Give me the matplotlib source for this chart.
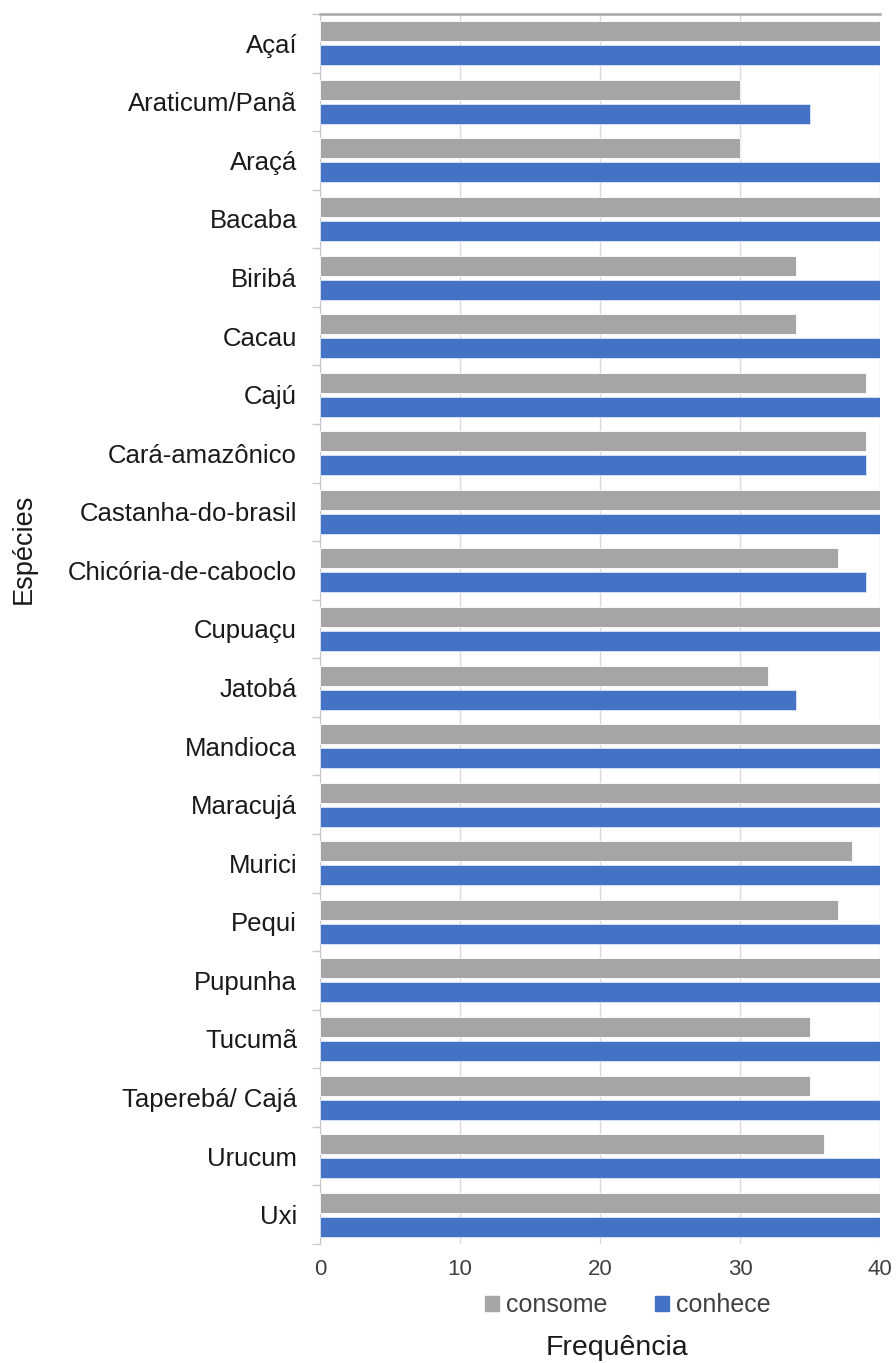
import matplotlib
matplotlib.use("Agg")
import matplotlib.pyplot as plt
import numpy as np
from matplotlib.patches import Patch

plt.rcParams['font.family'] = ['Liberation Sans', 'DejaVu Sans']

# Especies e frequencias
especies = ["Açaí", "Araticum/Panã", "Araçá", "Bacaba", "Biribá", "Cacau", "Cajú",
            "Cará-amazônico", "Castanha-do-brasil", "Chicória-de-caboclo", "Cupuaçu",
            "Jatobá", "Mandioca", "Maracujá", "Murici", "Pequi", "Pupunha", "Tucumã",
            "Taperebá/ Cajá", "Urucum", "Uxi"]
consome = [40, 30, 30, 40, 34, 34, 39, 39, 40, 37, 40, 32, 40, 40, 38, 37, 40, 35, 35, 36, 40]
conhece = [40, 35, 40, 40, 40, 40, 40, 39, 40, 39, 40, 34, 40, 40, 40, 40, 40, 40, 40, 40, 40]
xticks = [0, 10, 20, 30, 40]

cinza = "#A5A5A5"
azul = "#4472C4"

W, H = 896, 1363
fig = plt.figure(figsize=(W / 100, H / 100), dpi=100)
ax = fig.add_axes([320 / W, 1 - 1244 / H, 560 / W, (1244 - 14) / H])

y = np.arange(len(especies))
h = 0.34
off = 0.205
ax.barh(y - off, consome, height=h, color=cinza, edgecolor="white", linewidth=0.6, zorder=3)
ax.barh(y + off, conhece, height=h, color=azul, edgecolor="#dbe6f7", linewidth=0.6, zorder=3)

ax.set_xlim(0, 40)
ax.set_ylim(len(especies) - 0.5, -0.5)
ax.set_xticks(xticks)
ax.set_xticklabels([str(t) for t in xticks], fontsize=16, color="#404040")
ax.set_yticks(y)
ax.set_yticklabels(especies, fontsize=18.5, color="#1a1a1a")
ax.set_yticks(np.arange(-0.5, len(especies) + 0.5, 1), minor=True)
ax.tick_params(axis="y", which="major", length=0, pad=16.5)
ax.tick_params(axis="y", which="minor", length=6, color="#c8c8c8", width=1)
ax.tick_params(axis="x", length=0, pad=11)

ax.grid(axis="x", color="#d9d9d9", linewidth=1, zorder=0)
for s in ["right", "bottom"]:
    ax.spines[s].set_visible(False)
ax.spines["left"].set_color("#c8c8c8")
ax.spines["top"].set_color("#a6a6a6")
ax.spines["top"].set_linewidth(1.8)

# titulos dos eixos
fig.text(24 / W, 1 - 549 / H, "Espécies", rotation=90, ha="center", va="center",
         fontsize=19.5, color="#1a1a1a")
fig.text(617 / W, 1 - 1348 / H, "Frequência", ha="center", va="center",
         fontsize=20.5, color="#1a1a1a")

handles = [Patch(color=cinza, label="consome"), Patch(color=azul, label="conhece")]
fig.legend(handles=handles, loc="center", bbox_to_anchor=(628 / W, 1 - 1305 / H), ncol=2,
           frameon=False, fontsize=18, handlelength=0.55, handleheight=0.55,
           handletextpad=0.3, columnspacing=1.9, labelcolor="#404040",
           borderpad=0, borderaxespad=0)

fig.savefig("out.png", dpi=100, facecolor="white")
